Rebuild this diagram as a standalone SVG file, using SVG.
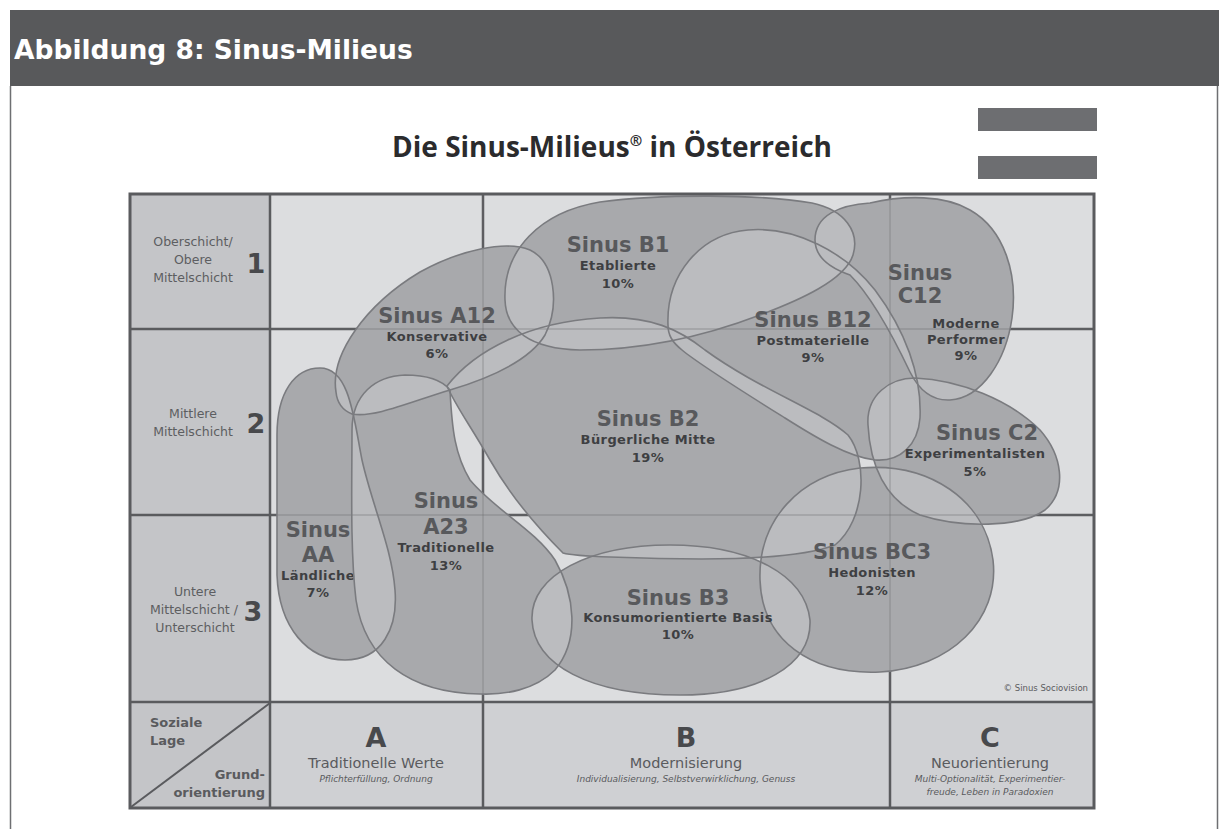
<svg xmlns="http://www.w3.org/2000/svg" xmlns:xlink="http://www.w3.org/1999/xlink" width="1219" height="829" viewBox="0 0 1219 829">
  <style>
    .hdr { font-family: "DejaVu Sans", Verdana, sans-serif; font-weight: bold; font-size: 26.5px; fill: #ffffff; }
    .ttl { font-family: "Open Sans", "DejaVu Sans", sans-serif; font-weight: bold; font-size: 28px; fill: #2b2b2d; }
    .grid { stroke: #5a5b5e; stroke-width: 2.5; fill: none; }
    .grid-in { stroke: #6a6b6e; stroke-width: 1.4; stroke-opacity: 0.35; fill: none; }
    .fill { fill: #a8a9ac; }
    .ovl { fill: #bbbcbf; }
    .outline { fill: none; stroke: #7a7b7f; stroke-width: 1.6; }
    .name { font-family: "DejaVu Sans", Verdana, sans-serif; font-weight: bold; font-size: 21px; fill: #58595c; text-anchor: middle; }
    .sub { font-family: "DejaVu Sans", Verdana, sans-serif; font-weight: bold; font-size: 13px; letter-spacing: 0.4px; fill: #3e3f42; text-anchor: middle; }
    .row { font-family: "DejaVu Sans", Verdana, sans-serif; font-size: 12.5px; fill: #5d5e61; text-anchor: middle; }
    .num { font-family: "DejaVu Sans", Verdana, sans-serif; font-weight: bold; font-size: 27px; fill: #48494c; text-anchor: middle; }
    .axl { font-family: "DejaVu Sans", Verdana, sans-serif; font-weight: bold; font-size: 13px; fill: #5a5b5e; }
    .col { font-family: "DejaVu Sans", Verdana, sans-serif; font-weight: bold; font-size: 27px; fill: #48494c; text-anchor: middle; }
    .colt { font-family: "DejaVu Sans", Verdana, sans-serif; font-size: 14.5px; fill: #5a5b5e; text-anchor: middle; }
    .cols { font-family: "DejaVu Sans", Verdana, sans-serif; font-style: italic; font-size: 9px; fill: #5a5b5e; text-anchor: middle; }
    .copy { font-family: "DejaVu Sans", Verdana, sans-serif; font-size: 8.5px; fill: #5a5b5e; text-anchor: end; }
  </style>
  <defs>
    <!-- milieu outlines -->
    <path id="shape-aa" d="M 320,368 C 295,368 277,392 277,435 L 277,575 C 279,628 308,660 345,660 C 382,660 398,628 395,590 C 392,548 372,505 362,460 C 354,420 350,368 320,368 Z"/>
    <path id="shape-a12" d="M 336,392 C 330,355 365,305 420,272 C 460,250 505,240 530,250 C 555,262 560,305 545,335 C 530,360 490,378 450,390 C 410,402 375,418 352,414 C 342,410 337,402 336,392 Z"/>
    <path id="shape-a23" d="M 352,430 C 352,395 375,376 405,375 C 425,375 442,380 450,390 C 452,430 455,455 470,480 C 495,510 535,530 555,560 C 575,595 580,640 555,670 C 535,690 505,695 480,694 C 410,693 365,660 356,600 C 350,550 352,480 352,430 Z"/>
    <path id="shape-b1" d="M 505,300 C 503,250 540,212 600,202 C 660,194 760,194 812,203 C 845,210 860,232 853,255 C 845,280 800,300 760,315 C 700,338 640,350 580,350 C 530,349 506,330 505,300 Z"/>
    <path id="shape-b12" d="M 668,325 C 666,275 700,234 748,230 C 795,226 845,252 875,290 C 905,330 922,375 920,418 C 918,445 900,462 875,460 C 848,457 815,437 785,418 C 745,393 700,365 682,350 C 672,342 668,335 668,325 Z"/>
    <path id="shape-b2" d="M 447,386 C 475,350 530,322 600,318 C 650,315 680,330 705,350 C 760,390 820,410 848,435 C 868,460 866,520 835,545 C 790,562 690,560 610,557 C 580,556 570,555 563,553 C 535,525 510,495 490,460 C 470,425 455,405 447,386 Z"/>
    <path id="shape-b3" d="M 532,620 C 530,575 590,545 670,545 C 750,545 805,575 810,620 C 812,665 760,695 680,695 C 590,695 534,665 532,620 Z"/>
    <path id="shape-c12" d="M 815,240 C 815,215 840,205 870,203 C 905,195 945,195 970,210 C 1005,230 1018,275 1012,318 C 1006,360 982,398 950,400 C 930,401 918,388 910,372 C 890,330 870,295 850,275 C 830,268 815,258 815,240 Z"/>
    <path id="shape-c2" d="M 868,425 C 866,395 890,378 915,378 C 960,380 1010,400 1040,430 C 1062,455 1068,490 1045,510 C 1020,528 960,528 920,515 C 885,500 870,465 868,425 Z"/>
    <path id="shape-bc3" d="M 760,580 C 758,520 800,475 860,468 C 930,462 985,500 993,560 C 1000,620 950,668 880,672 C 810,675 762,640 760,580 Z"/>
    <clipPath id="clip-aa"><use xlink:href="#shape-aa"/></clipPath>
    <clipPath id="clip-a12"><use xlink:href="#shape-a12"/></clipPath>
    <clipPath id="clip-a23"><use xlink:href="#shape-a23"/></clipPath>
    <clipPath id="clip-b1"><use xlink:href="#shape-b1"/></clipPath>
    <clipPath id="clip-b12"><use xlink:href="#shape-b12"/></clipPath>
    <clipPath id="clip-b2"><use xlink:href="#shape-b2"/></clipPath>
    <clipPath id="clip-b3"><use xlink:href="#shape-b3"/></clipPath>
    <clipPath id="clip-c12"><use xlink:href="#shape-c12"/></clipPath>
    <clipPath id="clip-c2"><use xlink:href="#shape-c2"/></clipPath>
    <clipPath id="clip-bc3"><use xlink:href="#shape-bc3"/></clipPath>
  </defs>

  <rect width="1219" height="829" fill="#ffffff"/>

  <!-- page header -->
  <g id="header">
    <rect x="10" y="10" width="1209" height="76" fill="#58595b"/>
    <line x1="10.5" y1="86" x2="10.5" y2="829" stroke="#6e6f72" stroke-width="1.5"/>
    <line x1="1217.5" y1="86" x2="1217.5" y2="829" stroke="#6e6f72" stroke-width="1.5"/>
    <text class="hdr" x="14" y="59">Abbildung 8: Sinus-Milieus</text>
  </g>

  <!-- chart heading and logo bars -->
  <g id="chart-title">
    <text class="ttl" x="612" y="157" text-anchor="middle">Die Sinus-Milieus<tspan font-size="15" dy="-11">®</tspan><tspan dy="11"> in Österreich</tspan></text>
    <rect x="978" y="108" width="119" height="23" fill="#6d6e71"/>
    <rect x="978" y="156" width="119" height="23" fill="#6d6e71"/>
  </g>

  <!-- grid backgrounds -->
  <g id="grid-cells">
    <rect x="130" y="194" width="964" height="614" fill="#dcdddf"/>
    <rect x="130" y="194" width="140" height="508" fill="#c4c5c8"/>
    <rect x="130" y="702" width="964" height="106" fill="#cfd0d3"/>
    <rect x="130" y="702" width="140" height="106" fill="#c4c5c8"/>
  </g>
  <g id="grid-lines-under" class="grid">
    <line x1="270" y1="329" x2="1094" y2="329"/>
    <line x1="270" y1="515" x2="1094" y2="515"/>
    <line x1="483" y1="194" x2="483" y2="702"/>
    <line x1="890" y1="194" x2="890" y2="702"/>
  </g>

  <!-- milieu fills -->
  <g id="milieu-fills" class="fill">
    <use xlink:href="#shape-aa"/>
    <use xlink:href="#shape-a12"/>
    <use xlink:href="#shape-a23"/>
    <use xlink:href="#shape-b1"/>
    <use xlink:href="#shape-b12"/>
    <use xlink:href="#shape-b2"/>
    <use xlink:href="#shape-b3"/>
    <use xlink:href="#shape-c12"/>
    <use xlink:href="#shape-c2"/>
    <use xlink:href="#shape-bc3"/>
  </g>

  <!-- lighter areas where two milieus overlap -->
  <g id="milieu-overlaps" class="ovl">
    <use xlink:href="#shape-aa" clip-path="url(#clip-a12)"/>
    <use xlink:href="#shape-aa" clip-path="url(#clip-a23)"/>
    <use xlink:href="#shape-a12" clip-path="url(#clip-a23)"/>
    <use xlink:href="#shape-a12" clip-path="url(#clip-b1)"/>
    <use xlink:href="#shape-a12" clip-path="url(#clip-b2)"/>
    <use xlink:href="#shape-a23" clip-path="url(#clip-b2)"/>
    <use xlink:href="#shape-a23" clip-path="url(#clip-b3)"/>
    <use xlink:href="#shape-b1" clip-path="url(#clip-b12)"/>
    <use xlink:href="#shape-b1" clip-path="url(#clip-c12)"/>
    <use xlink:href="#shape-b1" clip-path="url(#clip-b2)"/>
    <use xlink:href="#shape-b12" clip-path="url(#clip-c12)"/>
    <use xlink:href="#shape-b12" clip-path="url(#clip-b2)"/>
    <use xlink:href="#shape-b12" clip-path="url(#clip-c2)"/>
    <use xlink:href="#shape-c12" clip-path="url(#clip-c2)"/>
    <use xlink:href="#shape-c2" clip-path="url(#clip-bc3)"/>
    <use xlink:href="#shape-b2" clip-path="url(#clip-bc3)"/>
    <use xlink:href="#shape-b2" clip-path="url(#clip-b3)"/>
    <use xlink:href="#shape-b3" clip-path="url(#clip-bc3)"/>
  </g>

  <!-- grid lines showing faintly through the milieus -->
  <g id="grid-lines-over" class="grid-in">
    <line x1="270" y1="329" x2="1094" y2="329"/>
    <line x1="270" y1="515" x2="1094" y2="515"/>
    <line x1="483" y1="194" x2="483" y2="702"/>
    <line x1="890" y1="194" x2="890" y2="702"/>
  </g>

  <!-- milieus -->
  <g id="milieu-aa">
    <use xlink:href="#shape-aa" class="outline"/>
    <text class="name" x="318" y="537">Sinus</text>
    <text class="name" x="318" y="562">AA</text>
    <text class="sub" x="318" y="580">Ländliche</text>
    <text class="sub" x="318" y="597">7%</text>
  </g>
  <g id="milieu-a12">
    <use xlink:href="#shape-a12" class="outline"/>
    <text class="name" x="437" y="323">Sinus A12</text>
    <text class="sub" x="437" y="341">Konservative</text>
    <text class="sub" x="437" y="358">6%</text>
  </g>
  <g id="milieu-a23">
    <use xlink:href="#shape-a23" class="outline"/>
    <text class="name" x="446" y="508">Sinus</text>
    <text class="name" x="446" y="534">A23</text>
    <text class="sub" x="446" y="552">Traditionelle</text>
    <text class="sub" x="446" y="570">13%</text>
  </g>
  <g id="milieu-b1">
    <use xlink:href="#shape-b1" class="outline"/>
    <text class="name" x="618" y="252">Sinus B1</text>
    <text class="sub" x="618" y="270">Etablierte</text>
    <text class="sub" x="618" y="288">10%</text>
  </g>
  <g id="milieu-b12">
    <use xlink:href="#shape-b12" class="outline"/>
    <text class="name" x="813" y="327">Sinus B12</text>
    <text class="sub" x="813" y="345">Postmaterielle</text>
    <text class="sub" x="813" y="362">9%</text>
  </g>
  <g id="milieu-c12">
    <use xlink:href="#shape-c12" class="outline"/>
    <text class="name" x="920" y="280">Sinus</text>
    <text class="name" x="920" y="303">C12</text>
    <text class="sub" x="966" y="328">Moderne</text>
    <text class="sub" x="966" y="344">Performer</text>
    <text class="sub" x="966" y="360">9%</text>
  </g>
  <g id="milieu-b2">
    <use xlink:href="#shape-b2" class="outline"/>
    <text class="name" x="648" y="426">Sinus B2</text>
    <text class="sub" x="648" y="444">Bürgerliche Mitte</text>
    <text class="sub" x="648" y="462">19%</text>
  </g>
  <g id="milieu-c2">
    <use xlink:href="#shape-c2" class="outline"/>
    <text class="name" x="987" y="440">Sinus C2</text>
    <text class="sub" x="975" y="458">Experimentalisten</text>
    <text class="sub" x="975" y="476">5%</text>
  </g>
  <g id="milieu-bc3">
    <use xlink:href="#shape-bc3" class="outline"/>
    <text class="name" x="872" y="559">Sinus BC3</text>
    <text class="sub" x="872" y="577">Hedonisten</text>
    <text class="sub" x="872" y="595">12%</text>
  </g>
  <g id="milieu-b3">
    <use xlink:href="#shape-b3" class="outline"/>
    <text class="name" x="678" y="605">Sinus B3</text>
    <text class="sub" x="678" y="622">Konsumorientierte Basis</text>
    <text class="sub" x="678" y="639">10%</text>
  </g>

  <text class="copy" x="1088" y="691">© Sinus Sociovision</text>

  <!-- frame of the grid -->
  <g id="grid-frame" class="grid">
    <rect x="130" y="194" width="964" height="614" stroke-width="3"/>
    <line x1="270" y1="194" x2="270" y2="808"/>
    <line x1="130" y1="329" x2="270" y2="329"/>
    <line x1="130" y1="515" x2="270" y2="515"/>
    <line x1="130" y1="702" x2="1094" y2="702"/>
    <line x1="483" y1="702" x2="483" y2="808"/>
    <line x1="890" y1="702" x2="890" y2="808"/>
    <line x1="131" y1="807" x2="270" y2="703" stroke-width="2"/>
  </g>

  <!-- social position rows -->
  <g id="row-1">
    <text class="row" x="193" y="246">Oberschicht/</text>
    <text class="row" x="193" y="264">Obere</text>
    <text class="row" x="193" y="282">Mittelschicht</text>
    <text class="num" x="256" y="273">1</text>
  </g>
  <g id="row-2">
    <text class="row" x="193" y="418">Mittlere</text>
    <text class="row" x="193" y="436">Mittelschicht</text>
    <text class="num" x="256" y="433">2</text>
  </g>
  <g id="row-3">
    <text class="row" x="195" y="596">Untere</text>
    <text class="row" x="194" y="614">Mittelschicht /</text>
    <text class="row" x="195" y="632">Unterschicht</text>
    <text class="num" x="253" y="621">3</text>
  </g>

  <!-- value orientation columns -->
  <g id="axis-corner">
    <text class="axl" x="150" y="727">Soziale</text>
    <text class="axl" x="150" y="745">Lage</text>
    <text class="axl" x="265" y="779" text-anchor="end">Grund-</text>
    <text class="axl" x="265" y="797" text-anchor="end">orientierung</text>
  </g>
  <g id="col-a">
    <text class="col" x="376" y="747">A</text>
    <text class="colt" x="376" y="768">Traditionelle Werte</text>
    <text class="cols" x="376" y="782">Pflichterfüllung, Ordnung</text>
  </g>
  <g id="col-b">
    <text class="col" x="686" y="747">B</text>
    <text class="colt" x="686" y="768">Modernisierung</text>
    <text class="cols" x="686" y="782">Individualisierung, Selbstverwirklichung, Genuss</text>
  </g>
  <g id="col-c">
    <text class="col" x="990" y="747">C</text>
    <text class="colt" x="990" y="768">Neuorientierung</text>
    <text class="cols" x="990" y="782">Multi-Optionalität, Experimentier-</text>
    <text class="cols" x="990" y="795">freude, Leben in Paradoxien</text>
  </g>
</svg>
